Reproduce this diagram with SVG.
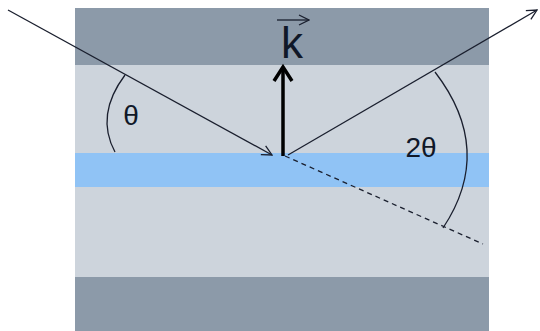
<svg xmlns="http://www.w3.org/2000/svg" width="540" height="331" viewBox="0 0 540 331">
<style>
.ray{stroke:#1a1f2e;stroke-width:1.3;fill:none}
.lbl{font-family:"Liberation Sans",Arial,sans-serif;fill:#101828}
</style>
<defs>
<marker id="open" viewBox="0 0 12 12" refX="11" refY="6" markerWidth="12" markerHeight="12" markerUnits="userSpaceOnUse" orient="auto">
<path d="M1,1 L11,6 L1,11" fill="none" stroke="#1a1f2e" stroke-width="1.3"/>
</marker>
</defs>
<rect width="540" height="331" fill="#ffffff"/>
<g id="layers">
<rect x="75" y="8" width="414" height="323" fill="#cdd4dc"/>
<rect x="75" y="8" width="414" height="57" fill="#8c9aa9"/>
<rect x="75" y="277" width="414" height="54" fill="#8c9aa9"/>
<rect x="75" y="153" width="414" height="34" fill="#90c3f5"/>
</g>
<g id="connectors">
<line class="ray" x1="8" y1="10" x2="272" y2="155" marker-end="url(#open)"/>
<line class="ray" x1="288" y1="155" x2="537" y2="10" marker-end="url(#open)"/>
<line class="ray" x1="285" y1="156" x2="483" y2="244" stroke-dasharray="5,4"/>
<path class="ray" d="M125,75 Q95,115 115,152"/>
<path class="ray" d="M435,72 Q495,150 443,228"/>
<g id="k-arrow">
<line x1="283" y1="156" x2="283" y2="68" stroke="#000" stroke-width="3.5"/>
<path d="M274,81 L283,67 L292,81" fill="none" stroke="#000" stroke-width="3.5"/>
</g>
</g>
<g id="labels">
<text class="lbl" x="131" y="125" font-size="28" text-anchor="middle">θ</text>
<text class="lbl" x="421" y="157" font-size="28" text-anchor="middle">2θ</text>
<text class="lbl" x="292" y="58" font-size="44" text-anchor="middle">k</text>
<line class="ray" x1="277" y1="20" x2="309" y2="20" marker-end="url(#open)"/>
</g>
</svg>
